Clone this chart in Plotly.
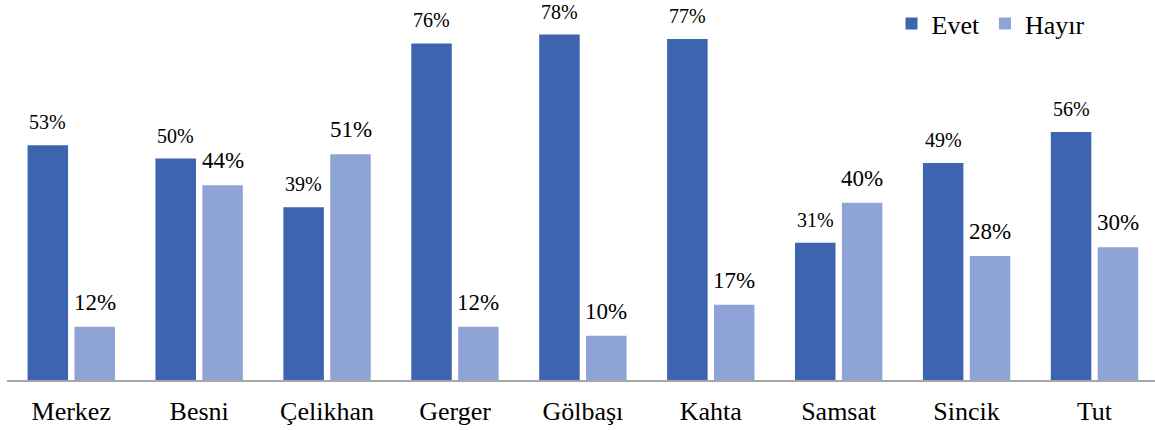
import plotly.graph_objects as go

categories = ["Merkez", "Besni", "Çelikhan", "Gerger", "Gölbaşı", "Kahta", "Samsat", "Sincik", "Tut"]
evet = [53, 50, 39, 76, 78, 77, 31, 49, 56]
hayir = [12, 44, 51, 12, 10, 17, 40, 28, 30]

EVET_COLOR = "#3D64AE"
HAYIR_COLOR = "#8FA4D6"
FONT = "Liberation Serif"

fig = go.Figure()
fig.add_trace(go.Bar(name="Evet", x=categories, y=evet, marker=dict(color=EVET_COLOR, line=dict(width=0))))
fig.add_trace(go.Bar(name="Hayır", x=categories, y=hayir, marker=dict(color=HAYIR_COLOR, line=dict(width=0))))

annotations = []
for c, v in zip(categories, evet):
    annotations.append(dict(x=c, y=v, xref="x", yref="y", text=f"{v}%", showarrow=False,
                            xanchor="center", yanchor="bottom", xshift=-23.5, yshift=10,
                            font=dict(family=FONT, size=20, color="#000")))
for c, v in zip(categories, hayir):
    annotations.append(dict(x=c, y=v, xref="x", yref="y", text=f"{v}%", showarrow=False,
                            xanchor="center", yanchor="bottom", xshift=23.5, yshift=10,
                            font=dict(family=FONT, size=23, color="#000")))

fig.update_layout(
    width=1155, height=430,
    margin=dict(l=7, r=0, t=0, b=50),
    paper_bgcolor="white", plot_bgcolor="white",
    barmode="group", bargap=0.267, bargroupgap=0.136,
    font=dict(family=FONT, size=26, color="#000"),
    showlegend=True,
    legend=dict(orientation="h", x=0.7705, xanchor="left", y=1.0, yanchor="top",
                font=dict(family=FONT, size=26, color="#000"), bgcolor="rgba(0,0,0,0)",
                itemwidth=30, tracegroupgap=0),
    annotations=annotations,
)
fig.update_xaxes(range=[-0.5023, 8.473], showline=True, linecolor="#A6A6A6", linewidth=1.5,
                 showgrid=False, ticks="", automargin=False, ticklabelstandoff=7,
                 tickfont=dict(family=FONT, size=26, color="#000"))
fig.update_yaxes(range=[0, 85.8], showgrid=False, showticklabels=False, zeroline=False, showline=False)

fig.write_html("out.html", config={"displayModeBar": False},
               post_script="document.body.style.margin='0';")
